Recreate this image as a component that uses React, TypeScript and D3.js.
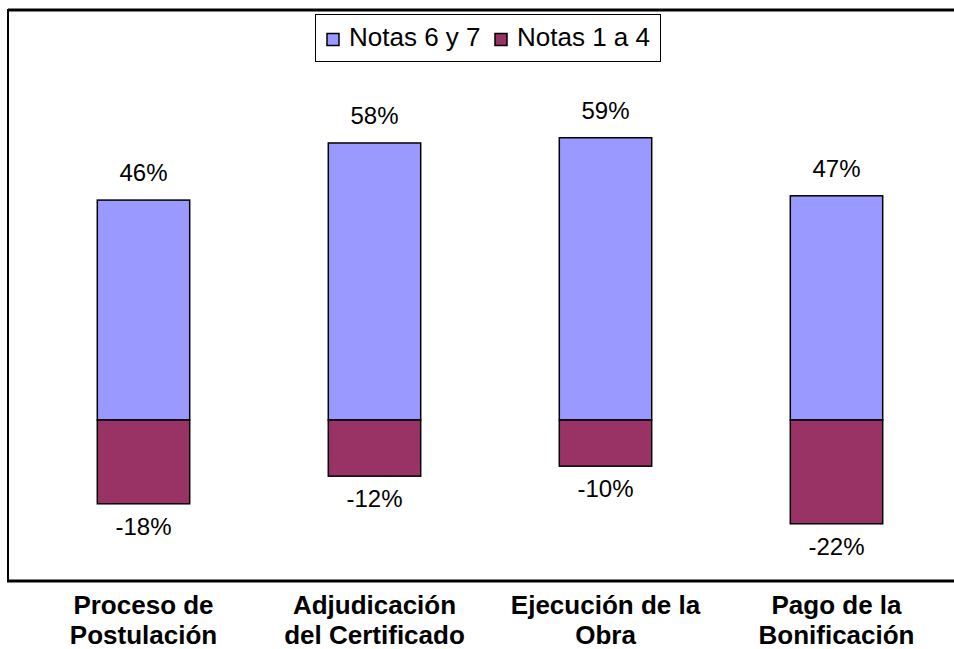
import React, { useEffect, useRef } from "react";
import * as d3 from "d3";

// categories (two-line labels)
const categories = [
    ["Proceso de", "Postulación"],
    ["Adjudicación", "del Certificado"],
    ["Ejecución de la", "Obra"],
    ["Pago de la", "Bonificación"],
];

// series values in percent
const series = ["Notas 6 y 7", "Notas 1 a 4"];
const high = [46.2, 58.2, 59.3, 47.1];
const low = [-17.6, -11.8, -9.7, -21.8];
const colors = ["#9999FF", "#993366"];

const W = 954;
const H = 649;

const App: React.FC = () => {
    const svgRef = useRef<SVGSVGElement>(null);

    useEffect(() => {
        if (!svgRef.current) return;
        const svg = d3.select(svgRef.current);
        svg.selectAll("*").remove();

        const font = "'Liberation Sans', Arial, sans-serif";
        const keys = categories.map((c) => c.join(" "));

        const x = d3
            .scaleBand()
            .domain(keys)
            .range([28, 952])
            .paddingInner(0.6)
            .paddingOuter(0.3);

        // 4.76 px per percent, zero at y=420
        const y = d3.scaleLinear().domain([-25, 75]).range([539, 63]);

        // frame (right edge is cropped in the original)
        svg.append("line")
            .attr("x1", 8).attr("x2", W)
            .attr("y1", 10).attr("y2", 10)
            .attr("stroke", "#000").attr("stroke-width", 3);
        svg.append("line")
            .attr("x1", 8).attr("x2", 8)
            .attr("y1", 9).attr("y2", 582)
            .attr("stroke", "#000").attr("stroke-width", 2);
        svg.append("line")
            .attr("x1", 7).attr("x2", W)
            .attr("y1", 581).attr("y2", 581)
            .attr("stroke", "#000").attr("stroke-width", 3);

        const g = svg.append("g");

        // positive bars
        g.selectAll(".hi")
            .data(high)
            .enter()
            .append("rect")
            .attr("x", (_d, i) => x(keys[i]) || 0)
            .attr("y", (d) => y(d))
            .attr("width", x.bandwidth())
            .attr("height", (d) => y(0) - y(d))
            .attr("fill", colors[0])
            .attr("stroke", "#000")
            .attr("stroke-width", 1.5);

        // negative bars
        g.selectAll(".lo")
            .data(low)
            .enter()
            .append("rect")
            .attr("x", (_d, i) => x(keys[i]) || 0)
            .attr("y", y(0))
            .attr("width", x.bandwidth())
            .attr("height", (d) => y(d) - y(0))
            .attr("fill", colors[1])
            .attr("stroke", "#000")
            .attr("stroke-width", 1.5);

        // value labels
        g.selectAll(".hiLbl")
            .data(high)
            .enter()
            .append("text")
            .attr("x", (_d, i) => (x(keys[i]) || 0) + x.bandwidth() / 2)
            .attr("y", (d) => y(d) - 19)
            .attr("text-anchor", "middle")
            .attr("font-family", font)
            .attr("font-size", 24)
            .text((d) => `${Math.round(d)}%`);

        g.selectAll(".loLbl")
            .data(low)
            .enter()
            .append("text")
            .attr("x", (_d, i) => (x(keys[i]) || 0) + x.bandwidth() / 2)
            .attr("y", (d) => y(d) + 31)
            .attr("text-anchor", "middle")
            .attr("font-family", font)
            .attr("font-size", 24)
            .text((d) => `${Math.round(d)}%`);

        // category labels
        const cat = g
            .selectAll(".cat")
            .data(categories)
            .enter()
            .append("text")
            .attr("text-anchor", "middle")
            .attr("font-family", font)
            .attr("font-size", 26)
            .attr("font-weight", "bold");
        cat.each(function (lines, i) {
            const cx = (x(keys[i]) || 0) + x.bandwidth() / 2;
            d3.select(this)
                .selectAll("tspan")
                .data(lines)
                .enter()
                .append("tspan")
                .attr("x", cx)
                .attr("y", (_l, j) => 614 + j * 30)
                .text((l) => l);
        });

        // legend
        const lg = svg.append("g");
        lg.append("rect")
            .attr("x", 315.5).attr("y", 14.5)
            .attr("width", 345).attr("height", 47)
            .attr("fill", "#fff").attr("stroke", "#000");
        const items = [
            { sx: 327, tx: 349 },
            { sx: 495, tx: 517 },
        ];
        series.forEach((s, i) => {
            lg.append("rect")
                .attr("x", items[i].sx).attr("y", 33.5)
                .attr("width", 12).attr("height", 12)
                .attr("fill", colors[i])
                .attr("stroke", "#000").attr("stroke-width", 1.5);
            lg.append("text")
                .attr("x", items[i].tx).attr("y", 46)
                .attr("font-family", font)
                .attr("font-size", 26)
                .text(s);
        });
    }, []);

    return (
        <svg
            ref={svgRef}
            width={W}
            height={H}
            style={{ position: "absolute", left: 0, top: 0, background: "#fff" }}
        />
    );
};

export default App;
